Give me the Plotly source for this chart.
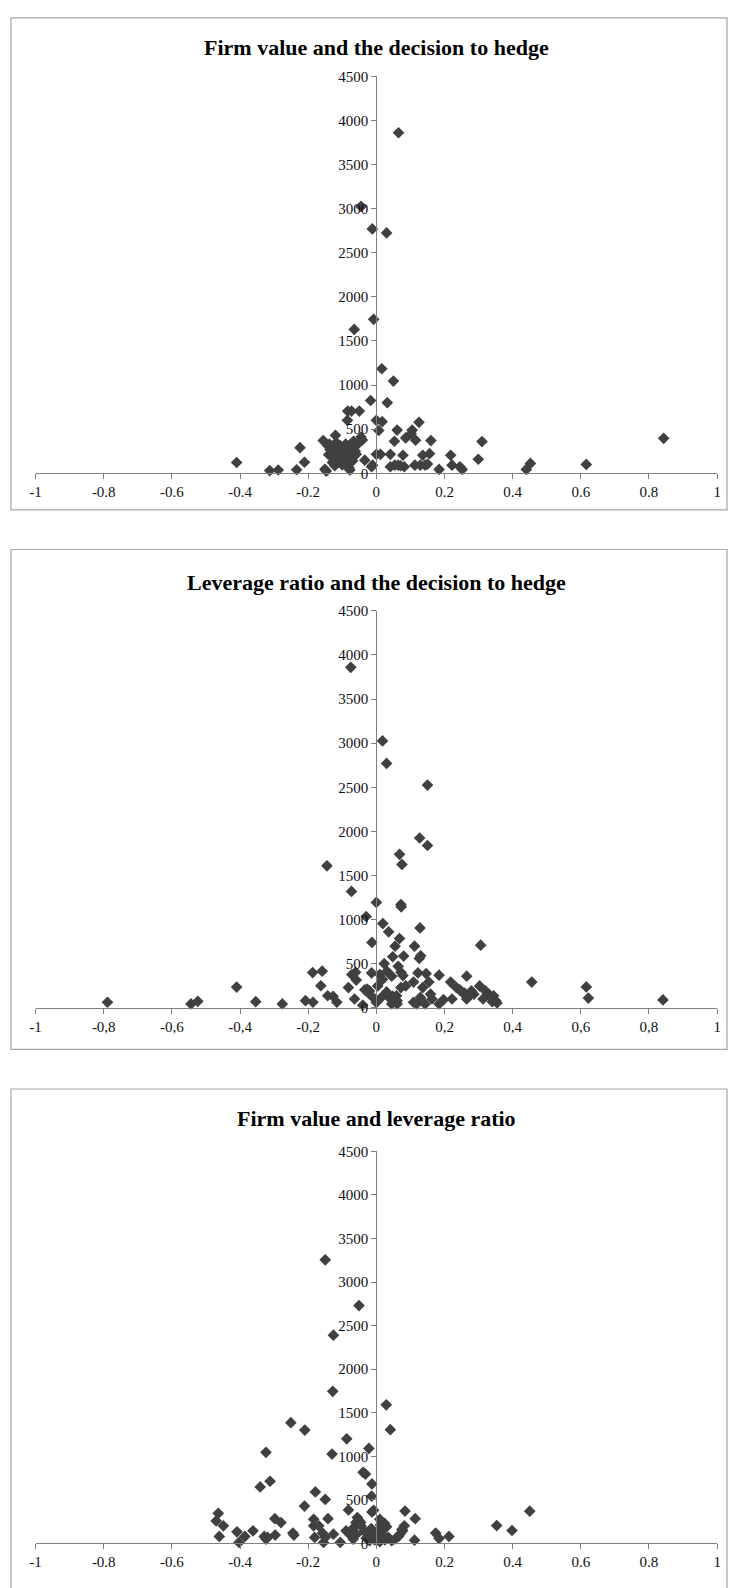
import plotly.graph_objects as go

W, H = 732, 1588

titles = ["Firm value and the decision to hedge",
          "Leverage ratio and the decision to hedge",
          "Firm value and leverage ratio"]

x_tickvals = [-1, -0.8, -0.6, -0.4, -0.2, 0, 0.2, 0.4, 0.6, 0.8, 1]
x_ticktext_dot = ["-1", "-0.8", "-0.6", "-0.4", "-0.2", "0", "0.2", "0.4", "0.6", "0.8", "1"]
x_ticktext_comma = ["-1", "-0,8", "-0,6", "-0,4", "-0,2", "0", "0,2", "0,4", "0,6", "0,8", "1"]
y_tickvals = [0, 500, 1000, 1500, 2000, 2500, 3000, 3500, 4000, 4500]

# Panel 1: Firm value vs decision to hedge
p1_x = [0.065, -0.045, -0.012, 0.03, -0.008, -0.065, 0.016, 0.05, -0.017, 0.032,
        -0.084, -0.073, -0.05, -0.085, 0.0, 0.017, 0.007, 0.061, 0.105, 0.125,
        0.086, 0.053, 0.115, 0.16, 0.31, -0.045, -0.067, -0.12, -0.156, -0.143,
        -0.136, -0.41, -0.313, -0.288, -0.234, -0.224, -0.211, -0.147, -0.151, -0.129,
        -0.122, -0.116, -0.113, -0.102, -0.095, -0.082, -0.078, -0.072, -0.068, -0.059,
        -0.041, -0.034, -0.014, -0.011, 0.0, 0.012, 0.041, 0.041, 0.054, 0.064,
        0.071, 0.078, 0.082, 0.102, 0.113, 0.129, 0.136, 0.143, 0.15, 0.156,
        0.184, 0.218, 0.222, 0.245, 0.252, 0.299, 0.44, 0.452, 0.616, 0.843,
        -0.138, -0.128, -0.118, -0.105, -0.09, -0.14, -0.125, -0.11, -0.098, -0.088,
        -0.075, -0.085, -0.1, -0.07, -0.08, -0.062, -0.055]
p1_y = [3860, 3025, 2770, 2725, 1745, 1630, 1185, 1045, 825, 800,
        705, 705, 705, 600, 600, 585, 485, 490, 490, 577,
        400, 363, 375, 370, 359, 410, 363, 430, 370, 315,
        270, 122, 30, 37, 40, 290, 125, 25, 45, 122,
        85, 222, 296, 204, 240, 278, 37, 340, 215, 215,
        377, 148, 74, 92, 215, 215, 215, 74, 92, 92,
        85, 204, 74, 451, 92, 92, 204, 92, 104, 222,
        44, 204, 92, 74, 44, 159, 44, 111, 100, 396,
        330, 300, 350, 310, 330, 210, 180, 150, 190, 230,
        180, 120, 95, 140, 60, 250, 330]

# Panel 2: Leverage ratio vs decision to hedge
p2_x = [-0.075, 0.018, 0.03, 0.15, 0.127, 0.15, 0.068, 0.075, -0.145, -0.073,
        0.0, 0.072, 0.073, -0.03, 0.019, 0.036, 0.128, -0.013, 0.068, 0.055,
        0.112, 0.048, 0.08, 0.126, 0.13, -0.187, -0.159, -0.41, -0.163,
        -0.789, -0.544, -0.524, -0.354, -0.276, -0.208, -0.186, -0.143, -0.127, -0.116,
        -0.082, -0.072, -0.061, -0.059, -0.064, -0.034, -0.027, -0.02, -0.014, -0.003,
        0.004, 0.01, 0.018, 0.023, 0.031, 0.045, 0.037, 0.048, 0.059, 0.061,
        0.045, 0.061, 0.064, 0.072, 0.078, 0.072, 0.086, 0.109, 0.109, 0.122,
        0.118, 0.129, 0.136, 0.146, 0.154, 0.159, 0.163, 0.143, 0.184, 0.184,
        0.197, 0.218, 0.222, 0.235, 0.245, 0.252, 0.259, 0.265, 0.265, 0.279,
        0.286, 0.272, 0.303, 0.306, 0.32, 0.33, 0.313, 0.344, 0.35, 0.354,
        0.34, 0.456, 0.616, 0.622, 0.841, -0.02, 0.0, 0.015, -0.04, 0.03]
p2_y = [3860, 3025, 2770, 2525, 1925, 1840, 1740, 1625, 1610, 1320,
        1195, 1170, 1145, 1035, 955, 861, 906, 741, 786, 699,
        699, 579, 587, 560, 590, 400, 415, 235, 250,
        63, 44, 74, 70, 44, 81, 63, 137, 130, 63,
        229, 377, 403, 315, 100, 204, 211, 192, 396, 92,
        248, 377, 322, 500, 414, 359, 118, 130, 137, 81,
        44, 44, 470, 403, 366, 229, 248, 292, 63, 396,
        44, 118, 229, 388, 292, 155, 100, 44, 44, 370,
        92, 292, 100, 229, 204, 174, 166, 100, 359, 192,
        155, 137, 248, 710, 192, 155, 100, 137, 81, 55,
        70, 292, 237, 111, 89, 155, 60, 120, 30, 180]

# Panel 3: Firm value vs leverage ratio
p3_x = [-0.15, -0.051, -0.126, -0.128, 0.029, 0.041, -0.251, -0.21, -0.087, -0.022,
        -0.324, -0.13, -0.039, -0.032, -0.341, -0.312, -0.013, -0.179, -0.014, -0.15,
        -0.211, -0.082, -0.013, -0.008, 0.084, -0.464, -0.47, -0.449, -0.298, -0.28,
        -0.184, -0.184, -0.169, -0.142, -0.056, -0.06, -0.046, -0.066, 0.01, 0.024,
        0.114, 0.082, 0.077, -0.409, -0.386, -0.362, -0.461, -0.403, -0.329, -0.324,
        -0.319, -0.297, -0.245, -0.242, -0.181, -0.158, -0.15, -0.126, -0.155, -0.106,
        -0.089, -0.074, -0.068, -0.058, 0.174, 0.184, 0.213, 0.45, 0.353, 0.398,
        0.112, -0.035, -0.03, -0.025, -0.02, -0.015, -0.01, -0.005, 0.0, 0.005,
        0.01, 0.015, 0.02, 0.025, 0.03, 0.035, 0.045, 0.055, 0.065, 0.07,
        0.075, -0.045, 0.012, -0.05]
p3_y = [3255, 2730, 2390, 1745, 1590, 1305, 1385, 1300, 1200, 1090,
        1045, 1025, 815, 796, 648, 713, 682, 591, 542, 504,
        428, 383, 360, 379, 371, 345, 258, 201, 284, 239,
        277, 201, 201, 284, 296, 239, 239, 182, 277, 231,
        284, 201, 144, 133, 80, 144, 80, 11, 80, 49,
        68, 95, 118, 95, 68, 118, 68, 106, 11, 11,
        144, 87, 49, 106, 118, 57, 80, 370, 204, 148,
        37, 140, 60, 100, 30, 170, 80, 40, 120, 60,
        20, 150, 90, 40, 190, 70, 30, 50, 80, 110,
        160, 200, 210, 260]

panels = [(p1_x, p1_y, x_ticktext_dot),
          (p2_x, p2_y, x_ticktext_comma),
          (p3_x, p3_y, x_ticktext_dot)]

# pixel layout (top, bottom of plot area; border top/bottom; title y)
plot_px = [(69, 470), (609, 1010), (1155, 1551)]
border_px = [(10, 507), (547, 1052), (1092, 1600)]
title_px = [40, 580, 1122]
x_left, x_right = 30, 721

def py(p):
    return 1 - p / H

def px(p):
    return p / W

fig = go.Figure()
axis_color = "#7f7f7f"
font_family = "Liberation Serif"

for i, (xs, ys, xtt) in enumerate(panels):
    n = i + 1
    xa = "x" if n == 1 else f"x{n}"
    ya = "y" if n == 1 else f"y{n}"
    fig.add_trace(go.Scatter(
        x=xs, y=ys, mode="markers", xaxis=xa, yaxis=ya,
        marker=dict(symbol="diamond", size=9, color="#404040"),
        cliponaxis=False, showlegend=False, hoverinfo="skip"))
    top, bot = plot_px[i]
    dom_x = [px(x_left), px(x_right)]
    xkey = "xaxis" if n == 1 else f"xaxis{n}"
    ykey = "yaxis" if n == 1 else f"yaxis{n}"
    fig.layout[xkey] = dict(
        domain=dom_x, range=[-1, 1], anchor=ya,
        tickvals=x_tickvals, ticktext=xtt,
        ticks="outside", ticklen=5, tickcolor=axis_color,
        showline=True, linecolor=axis_color, linewidth=1,
        showgrid=False, zeroline=False,
        tickfont=dict(family=font_family, size=15, color="#111111"))
    fig.layout[ykey] = dict(
        domain=[py(bot), py(top)], range=[0, 4500], anchor="free",
        position=(dom_x[0] + dom_x[1]) / 2,
        tickvals=y_tickvals,
        ticks="outside", ticklen=5, tickcolor=axis_color,
        showline=True, linecolor=axis_color, linewidth=1,
        showgrid=False, zeroline=False,
        tickfont=dict(family=font_family, size=15, color="#111111"))
    bt, bb = border_px[i]
    fig.add_shape(type="rect", xref="paper", yref="paper",
                  x0=px(5), x1=px(731), y0=py(bb), y1=py(bt),
                  line=dict(color="#a6a6a6", width=1.2), fillcolor="rgba(0,0,0,0)",
                  layer="below")
    fig.add_annotation(text=f"<b>{titles[i]}</b>", xref="paper", yref="paper",
                       x=px((x_left + x_right) / 2), y=py(title_px[i]),
                       showarrow=False, xanchor="center", yanchor="middle",
                       font=dict(family=font_family, size=22, color="#000000"))

fig.update_layout(width=W, height=H, margin=dict(l=0, r=0, t=0, b=0),
                  paper_bgcolor="white", plot_bgcolor="rgba(0,0,0,0)")

fig.write_html("out.html",
               config={"displayModeBar": False},
               post_script="document.body.style.margin='0px';"
                           "document.body.style.overflow='hidden';")
